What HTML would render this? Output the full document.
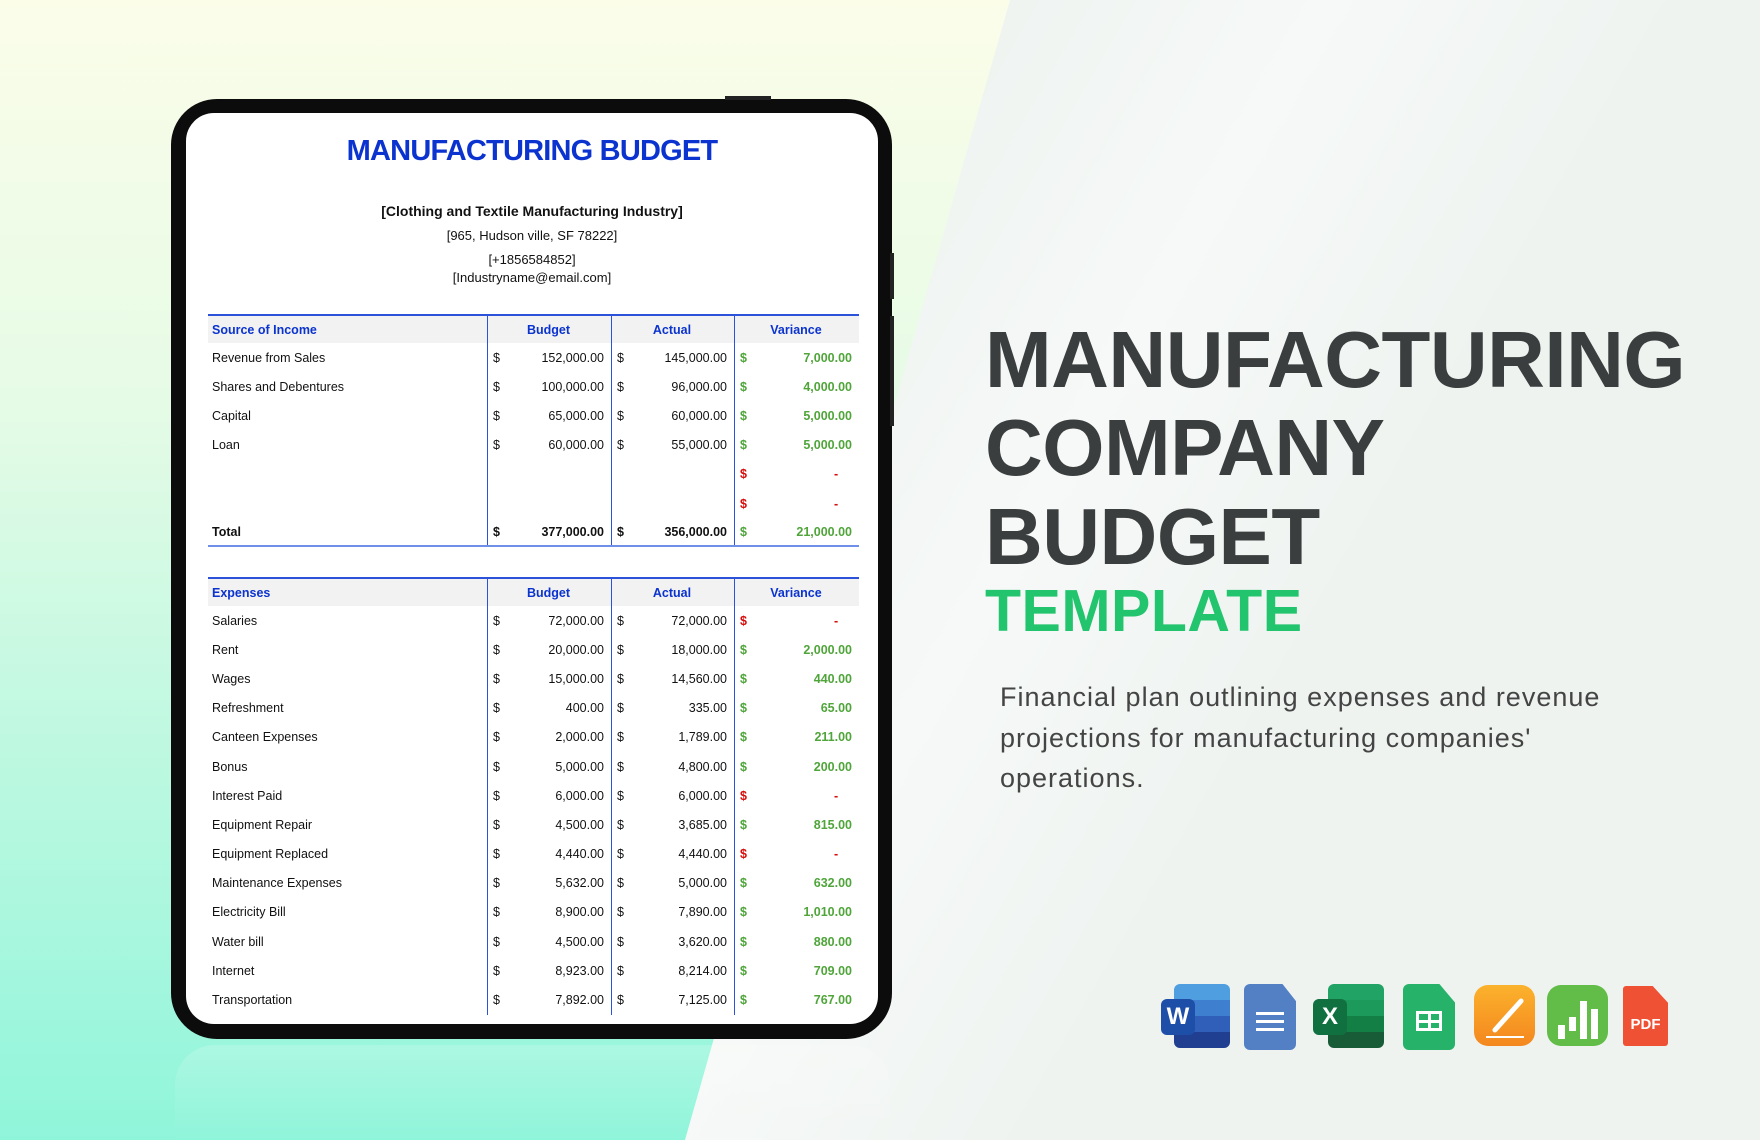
<!DOCTYPE html>
<html><head><meta charset="utf-8"><style>
*{margin:0;padding:0;box-sizing:border-box}
body{width:1760px;height:1140px;overflow:hidden;position:relative;font-family:"Liberation Sans",sans-serif;background:#eef3f0}
.bgl{position:absolute;left:0;top:0;width:1760px;height:1140px;background:linear-gradient(180deg,#fbfde9 0%,#e6fbe6 35%,#b8f8e0 70%,#8ff5da 100%);clip-path:polygon(0 0,1010px 0,685px 1140px,0 1140px)}
.bgr{position:absolute;left:0;top:0;width:1760px;height:1140px;background:linear-gradient(120deg,rgba(255,255,255,0) 40%,rgba(255,255,255,.5) 55%,rgba(255,255,255,0) 70%);clip-path:polygon(1010px 0,1760px 0,1760px 1140px,685px 1140px)}
.tab{position:absolute;left:171px;top:99px;width:721px;height:940px;background:#0c0c0c;border-radius:46px}
.btn{position:absolute;background:#222;}
.scr{position:absolute;left:186px;top:113px;width:692px;height:911px;background:#fff;border-radius:28px;overflow:hidden}
.h1{position:absolute;left:0;width:692px;top:22px;text-align:center;color:#0b33cf;font-weight:bold;font-size:29px;letter-spacing:-0.8px}
.c{position:absolute;left:0;width:692px;text-align:center;color:#111;font-size:13px}
.t{position:absolute;left:22px;width:651px;font-size:12.5px;color:#111}
.row{height:29.2px;display:flex;align-items:center;position:relative}
.hd{height:29px;background:#f2f2f2;border-top:2px solid #2b52d8;color:#0b33cf;font-weight:bold}
.l{width:279px;padding-left:4px}
.col{height:100%;display:flex;align-items:center;justify-content:space-between;border-left:1.5px solid #2b52d8;padding:0 7px 0 5px}
.b{width:124px}.a{width:123px}.v{width:125px}
.hd .col{justify-content:center}
.g{color:#4fa53a;font-weight:bold}.r{color:#d60d0d;font-weight:bold}
.tot{font-weight:bold;border-bottom:2px solid #6f8fe8}
.big{position:absolute;left:985px;color:#3b3e3e;font-weight:bold;font-size:80px;letter-spacing:-0.5px;line-height:1}
.tp{position:absolute;left:985px;top:582px;color:#22c46e;font-weight:bold;font-size:59px;line-height:1;letter-spacing:0.5px}
.p{position:absolute;left:1000px;top:677px;width:720px;color:#444;font-size:27px;letter-spacing:1px;line-height:40.5px}
.ic{position:absolute;top:984px;height:64px;border-radius:6px}
</style></head><body>
<div class="bgl"></div><div class="bgr"></div>
<div style="position:absolute;left:175px;top:1045px;width:715px;height:95px;background:linear-gradient(180deg,rgba(255,255,255,.18),rgba(255,255,255,0));border-radius:40px 40px 0 0"></div>
<div class="tab"></div>
<div class="btn" style="left:725px;top:96px;width:46px;height:4px"></div>
<div class="btn" style="left:890px;top:253px;width:4px;height:46px"></div>
<div class="btn" style="left:890px;top:316px;width:4px;height:110px"></div>
<div class="scr">
<div class="h1">MANUFACTURING BUDGET</div>
<div class="c" style="top:90px;font-weight:bold;font-size:14px">[Clothing and Textile Manufacturing Industry]</div>
<div class="c" style="top:115px">[965, Hudson ville, SF 78222]</div>
<div class="c" style="top:139px">[+1856584852]</div>
<div class="c" style="top:157px">[Industryname@email.com]</div>

<div class="t" style="top:201px">
<div class="row hd"><div class="l">Source of Income</div><div class="col b">Budget</div><div class="col a">Actual</div><div class="col v">Variance</div></div>
<div class="row"><div class="l">Revenue from Sales</div><div class="col b"><span>$</span><span>152,000.00</span></div><div class="col a"><span>$</span><span>145,000.00</span></div><div class="col v g"><span>$</span><span>7,000.00</span></div></div>
<div class="row"><div class="l">Shares and Debentures</div><div class="col b"><span>$</span><span>100,000.00</span></div><div class="col a"><span>$</span><span>96,000.00</span></div><div class="col v g"><span>$</span><span>4,000.00</span></div></div>
<div class="row"><div class="l">Capital</div><div class="col b"><span>$</span><span>65,000.00</span></div><div class="col a"><span>$</span><span>60,000.00</span></div><div class="col v g"><span>$</span><span>5,000.00</span></div></div>
<div class="row"><div class="l">Loan</div><div class="col b"><span>$</span><span>60,000.00</span></div><div class="col a"><span>$</span><span>55,000.00</span></div><div class="col v g"><span>$</span><span>5,000.00</span></div></div>
<div class="row"><div class="l"></div><div class="col b"></div><div class="col a"></div><div class="col v r"><span>$</span><span>-&nbsp;&nbsp;&nbsp;&nbsp;</span></div></div>
<div class="row"><div class="l"></div><div class="col b"></div><div class="col a"></div><div class="col v r"><span>$</span><span>-&nbsp;&nbsp;&nbsp;&nbsp;</span></div></div>
<div class="row tot"><div class="l">Total</div><div class="col b"><span>$</span><span>377,000.00</span></div><div class="col a"><span>$</span><span>356,000.00</span></div><div class="col v g"><span>$</span><span>21,000.00</span></div></div>
</div>

<div class="t" style="top:464px">
<div class="row hd"><div class="l">Expenses</div><div class="col b">Budget</div><div class="col a">Actual</div><div class="col v">Variance</div></div>
<div class="row"><div class="l">Salaries</div><div class="col b"><span>$</span><span>72,000.00</span></div><div class="col a"><span>$</span><span>72,000.00</span></div><div class="col v r"><span>$</span><span>-&nbsp;&nbsp;&nbsp;&nbsp;</span></div></div>
<div class="row"><div class="l">Rent</div><div class="col b"><span>$</span><span>20,000.00</span></div><div class="col a"><span>$</span><span>18,000.00</span></div><div class="col v g"><span>$</span><span>2,000.00</span></div></div>
<div class="row"><div class="l">Wages</div><div class="col b"><span>$</span><span>15,000.00</span></div><div class="col a"><span>$</span><span>14,560.00</span></div><div class="col v g"><span>$</span><span>440.00</span></div></div>
<div class="row"><div class="l">Refreshment</div><div class="col b"><span>$</span><span>400.00</span></div><div class="col a"><span>$</span><span>335.00</span></div><div class="col v g"><span>$</span><span>65.00</span></div></div>
<div class="row"><div class="l">Canteen Expenses</div><div class="col b"><span>$</span><span>2,000.00</span></div><div class="col a"><span>$</span><span>1,789.00</span></div><div class="col v g"><span>$</span><span>211.00</span></div></div>
<div class="row"><div class="l">Bonus</div><div class="col b"><span>$</span><span>5,000.00</span></div><div class="col a"><span>$</span><span>4,800.00</span></div><div class="col v g"><span>$</span><span>200.00</span></div></div>
<div class="row"><div class="l">Interest Paid</div><div class="col b"><span>$</span><span>6,000.00</span></div><div class="col a"><span>$</span><span>6,000.00</span></div><div class="col v r"><span>$</span><span>-&nbsp;&nbsp;&nbsp;&nbsp;</span></div></div>
<div class="row"><div class="l">Equipment Repair</div><div class="col b"><span>$</span><span>4,500.00</span></div><div class="col a"><span>$</span><span>3,685.00</span></div><div class="col v g"><span>$</span><span>815.00</span></div></div>
<div class="row"><div class="l">Equipment Replaced</div><div class="col b"><span>$</span><span>4,440.00</span></div><div class="col a"><span>$</span><span>4,440.00</span></div><div class="col v r"><span>$</span><span>-&nbsp;&nbsp;&nbsp;&nbsp;</span></div></div>
<div class="row"><div class="l">Maintenance Expenses</div><div class="col b"><span>$</span><span>5,632.00</span></div><div class="col a"><span>$</span><span>5,000.00</span></div><div class="col v g"><span>$</span><span>632.00</span></div></div>
<div class="row"><div class="l">Electricity Bill</div><div class="col b"><span>$</span><span>8,900.00</span></div><div class="col a"><span>$</span><span>7,890.00</span></div><div class="col v g"><span>$</span><span>1,010.00</span></div></div>
<div class="row"><div class="l">Water bill</div><div class="col b"><span>$</span><span>4,500.00</span></div><div class="col a"><span>$</span><span>3,620.00</span></div><div class="col v g"><span>$</span><span>880.00</span></div></div>
<div class="row"><div class="l">Internet</div><div class="col b"><span>$</span><span>8,923.00</span></div><div class="col a"><span>$</span><span>8,214.00</span></div><div class="col v g"><span>$</span><span>709.00</span></div></div>
<div class="row"><div class="l">Transportation</div><div class="col b"><span>$</span><span>7,892.00</span></div><div class="col a"><span>$</span><span>7,125.00</span></div><div class="col v g"><span>$</span><span>767.00</span></div></div>
</div>
</div>

<div class="big" style="top:320px">MANUFACTURING</div>
<div class="big" style="top:408px">COMPANY</div>
<div class="big" style="top:497px">BUDGET</div>
<div class="tp">TEMPLATE</div>
<div class="p">Financial plan outlining expenses and revenue<br>projections for manufacturing companies'<br>operations.</div>

<!-- icons -->
<div class="ic" style="left:1174px;top:984px;width:56px;background:linear-gradient(180deg,#4f9fe0 0 25%,#3f7fcf 25% 50%,#2f5fb8 50% 75%,#213f90 75%)"></div>
<div class="ic" style="left:1161px;top:999px;width:34px;height:36px;background:#1d4ea8;color:#fff;font-weight:bold;font-size:24px;text-align:center;line-height:36px">W</div>
<div class="ic" style="left:1244px;width:52px;height:66px;background:#5380c5;clip-path:polygon(0 0,74% 0,100% 26%,100% 100%,0 100%)"><div style="position:absolute;left:12px;top:28px;width:28px;height:3px;background:#fff;box-shadow:0 8px 0 #fff,0 16px 0 #fff"></div></div>
<div class="ic" style="left:1328px;width:56px;background:linear-gradient(180deg,#21a365 0 25%,#1b9a5c 25% 50%,#147f44 50% 75%,#185c37 75%)"></div>
<div class="ic" style="left:1313px;top:999px;width:34px;height:36px;background:#107040;color:#fff;font-weight:bold;font-size:24px;text-align:center;line-height:36px">X</div>
<div class="ic" style="left:1403px;width:52px;height:66px;background:#27b26a;clip-path:polygon(0 0,70% 0,100% 28%,100% 100%,0 100%)"><div style="position:absolute;left:13px;top:27px;width:26px;height:20px;border:3px solid #fff;background:linear-gradient(#fff,#fff) 50% 0/3px 100% no-repeat,linear-gradient(#fff,#fff) 0 50%/100% 3px no-repeat"></div></div>
<div class="ic" style="left:1474px;top:985px;width:61px;height:61px;border-radius:14px;background:linear-gradient(180deg,#fbb22c,#f4871f)"><div style="position:absolute;left:12px;top:28px;width:44px;height:5px;background:#fff;transform:rotate(-48deg);border-radius:3px"></div><div style="position:absolute;left:12px;top:51px;width:38px;height:2px;background:#fff"></div></div>
<div class="ic" style="left:1547px;top:985px;width:61px;height:61px;border-radius:14px;background:#62bc48"><div style="position:absolute;left:11px;top:40px;width:7px;height:14px;background:#fff;box-shadow:11px -8px 0 #fff"></div><div style="position:absolute;left:33px;top:16px;width:7px;height:38px;background:#fff"></div><div style="position:absolute;left:44px;top:24px;width:7px;height:30px;background:#fff"></div></div>
<div class="ic" style="left:1623px;top:986px;width:45px;height:60px;border-radius:3px;background:#ef5134;clip-path:polygon(0 0,66% 0,100% 28%,100% 100%,0 100%);color:#fff;font-weight:bold;font-size:15px;padding-top:30px;text-align:center">PDF</div>
</body></html>
